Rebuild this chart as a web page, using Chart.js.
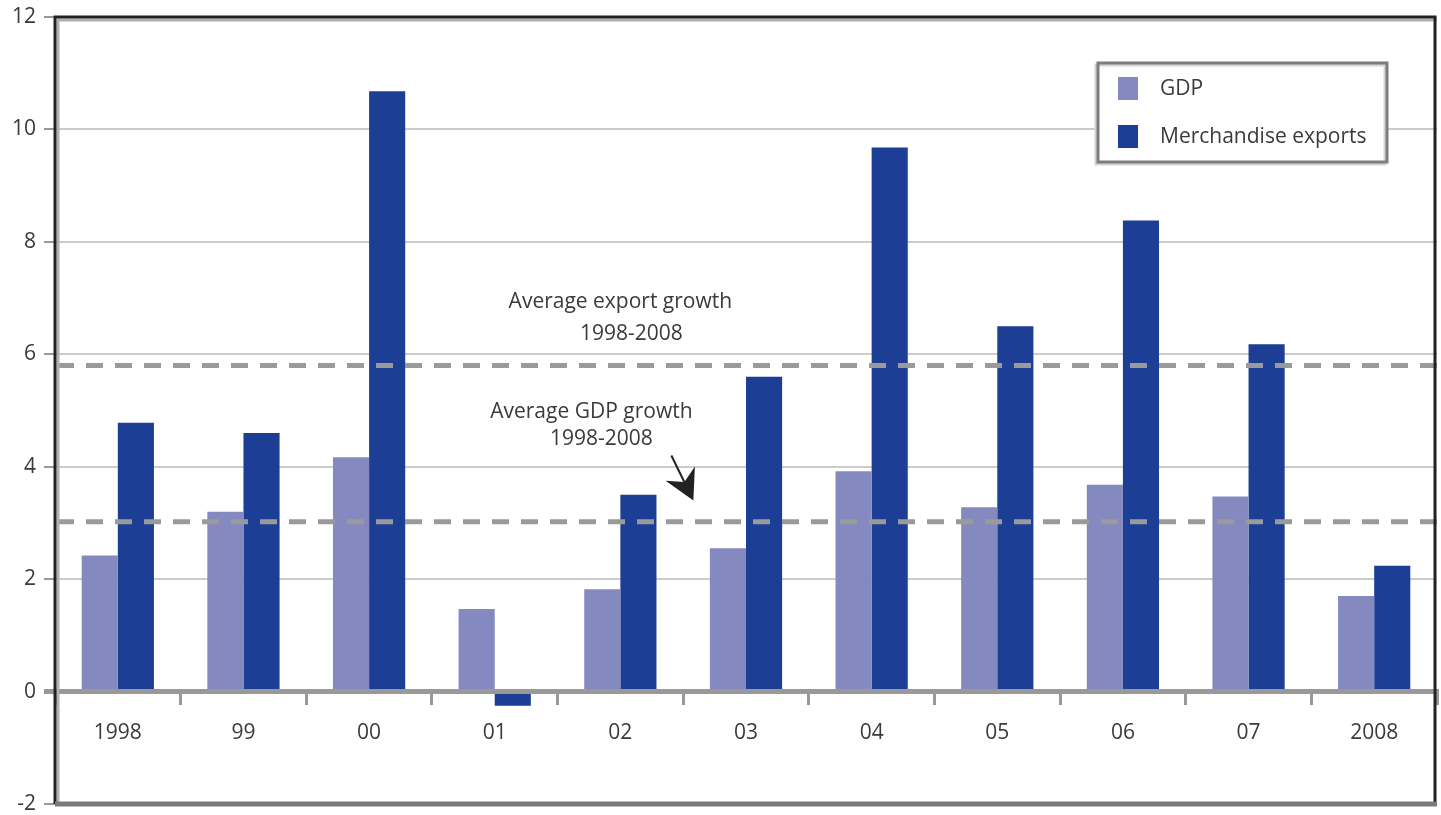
<!DOCTYPE html>
<html>
<head>
<meta charset="utf-8">
<script src="https://cdn.jsdelivr.net/npm/chart.js@4/dist/chart.umd.min.js"></script>
<style>
html,body{margin:0;padding:0;background:#fff;}
#wrap{width:1441px;height:815px;position:relative;}
</style>
</head>
<body>
<div id="wrap"><canvas id="c" width="1441" height="815"></canvas></div>
<script>
const categories = ["1998","99","00","01","02","03","04","05","06","07","2008"];
const gdpGrowth = [2.42, 3.2, 4.17, 1.47, 1.82, 2.55, 3.92, 3.28, 3.68, 3.47, 1.7];
const exportGrowth = [4.78, 4.6, 10.68, -0.25, 3.5, 5.6, 9.68, 6.5, 8.38, 6.18, 2.24];
const seriesNames = ["GDP", "Merchandise exports"];
const avgExportGrowth = 5.8;
const avgGdpGrowth = 3.02;
const yTicks = [-2, 0, 2, 4, 6, 8, 10, 12];

const FONT = "'Open Sans', 'DejaVu Sans', sans-serif";
const TXT = "#3a3a3a";

function drawAverages(chart) {
  const {ctx, chartArea: a, scales: {y}} = chart;
  ctx.save();
  ctx.strokeStyle = '#9a9a9a';
  ctx.lineWidth = 5;
  ctx.setLineDash([17, 12]);
  [avgExportGrowth, avgGdpGrowth].forEach(v => {
    const py = y.getPixelForValue(v);
    ctx.beginPath();
    ctx.moveTo(a.left + 2, py);
    ctx.lineTo(a.right, py);
    ctx.stroke();
  });
  ctx.restore();
}

const overlay = {
  id: 'overlay',
  afterDatasetsDraw(chart) {
    const {ctx, chartArea: a, scales: {x, y}} = chart;
    drawAverages(chart);
    ctx.save();

    // annotations text
    ctx.fillStyle = TXT;
    ctx.font = "21px " + FONT;
    ctx.textAlign = 'center';
    ctx.textBaseline = 'middle';
    const cx = x.getPixelForValue(4);
    ctx.fillText("Average export growth", cx, y.getPixelForValue(6.93));
    ctx.fillText("1998-2008", cx + 11, y.getPixelForValue(6.36));
    ctx.fillText("Average GDP growth", cx - 29, y.getPixelForValue(4.97));
    ctx.fillText("1998-2008", cx - 19, y.getPixelForValue(4.49));

    // arrow
    const x0 = cx + 51, y0 = y.getPixelForValue(4.2);
    const x1 = cx + 73, y1 = y.getPixelForValue(3.4);
    const ang = Math.atan2(y1 - y0, x1 - x0);
    ctx.strokeStyle = '#222';
    ctx.fillStyle = '#222';
    ctx.lineWidth = 2;
    ctx.beginPath();
    ctx.moveTo(x0, y0);
    ctx.lineTo(x1 - 20 * Math.cos(ang), y1 - 20 * Math.sin(ang));
    ctx.stroke();
    const hl = 34, hw = 0.5;
    ctx.beginPath();
    ctx.moveTo(x1, y1);
    ctx.lineTo(x1 - hl * Math.cos(ang - hw), y1 - hl * Math.sin(ang - hw));
    ctx.lineTo(x1 - hl * 0.6 * Math.cos(ang), y1 - hl * 0.6 * Math.sin(ang));
    ctx.lineTo(x1 - hl * Math.cos(ang + hw), y1 - hl * Math.sin(ang + hw));
    ctx.closePath();
    ctx.fill();

    // legend box
    const lx = 1097, ly = 63, lw = 289, lh = 99;
    ctx.fillStyle = '#fff';
    ctx.fillRect(lx, ly, lw, lh);
    ctx.strokeStyle = '#d4d4d4';
    ctx.lineWidth = 3;
    ctx.strokeRect(lx - 1, ly + 2, lw, lh);
    ctx.strokeStyle = '#7d7d7d';
    ctx.lineWidth = 3;
    ctx.strokeRect(lx + 1, ly, lw, lh);
    chart.data.datasets.forEach((ds, i) => {
      const sy = ly + 14 + i * 48;
      ctx.fillStyle = ds.backgroundColor;
      ctx.fillRect(lx + 21, sy, 20, 23);
      ctx.fillStyle = TXT;
      ctx.font = "21px " + FONT;
      ctx.textAlign = 'left';
      ctx.textBaseline = 'middle';
      ctx.fillText(ds.label, lx + 63, sy + 12);
    });

    // frame
    ctx.strokeStyle = '#b0b0b0';
    ctx.lineWidth = 3;
    ctx.beginPath();
    ctx.moveTo(a.left + 3, a.bottom);
    ctx.lineTo(a.left + 3, a.top + 3);
    ctx.lineTo(a.right, a.top + 3);
    ctx.stroke();
    ctx.strokeStyle = '#222';
    ctx.lineWidth = 3;
    ctx.beginPath();
    ctx.moveTo(a.left, a.bottom);
    ctx.lineTo(a.left, a.top);
    ctx.lineTo(a.right - 2, a.top);
    ctx.lineTo(a.right - 2, a.bottom);
    ctx.stroke();
    ctx.strokeStyle = '#7a7a7a';
    ctx.lineWidth = 5;
    ctx.beginPath();
    ctx.moveTo(a.left, a.bottom);
    ctx.lineTo(a.right, a.bottom);
    ctx.stroke();
    ctx.restore();
  }
};

new Chart(document.getElementById('c'), {
  type: 'bar',
  data: {
    labels: categories,
    datasets: [
      {label: seriesNames[0], data: gdpGrowth, backgroundColor: '#8489bf', borderWidth: 0},
      {label: seriesNames[1], data: exportGrowth, backgroundColor: '#1c3e95', borderWidth: 0}
    ]
  },
  options: {
    responsive: false,
    animation: false,
    devicePixelRatio: 1,
    layout: {padding: {top: 17, right: 4, bottom: 11, left: 0}},
    plugins: {legend: {display: false}, tooltip: {enabled: false}},
    datasets: {bar: {categoryPercentage: 0.575, barPercentage: 1}},
    scales: {
      x: {
        position: {y: 0},
        grid: {display: true, drawOnChartArea: false, drawTicks: true, tickLength: 11, offset: true, color: '#999', lineWidth: 3},
        border: {display: true, color: '#999', width: 5},
        ticks: {color: TXT, font: {family: FONT, size: 21}, padding: 18, maxRotation: 0, autoSkip: false}
      },
      y: {
        min: -2, max: 12,
        afterFit(s) { s.width = 55; s.paddingTop = 0; s.paddingBottom = 0; },
        afterBuildTicks(s) { s.ticks = yTicks.map(v => ({value: v})); },
        grid: {
          color: ctx => ctx.tick && ctx.tick.value === 0 ? '#999' : '#cccccc',
          lineWidth: ctx => ctx.tick && ctx.tick.value === 0 ? 5 : 2,
          tickLength: 11, tickColor: '#999'
        },
        border: {display: false},
        ticks: {color: TXT, font: {family: FONT, size: 21}, padding: 8}
      }
    }
  },
  plugins: [overlay]
});
</script>
</body>
</html>
